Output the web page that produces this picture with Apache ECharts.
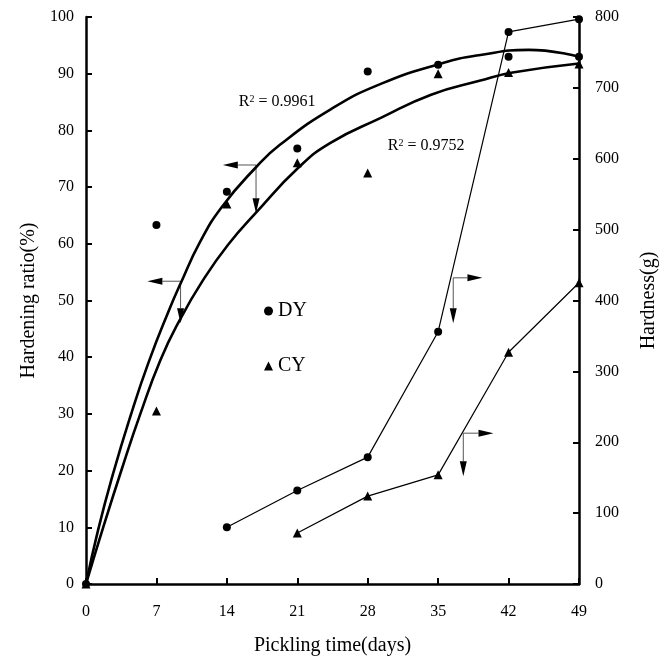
<!DOCTYPE html>
<html>
<head>
<meta charset="utf-8">
<script src="https://cdn.jsdelivr.net/npm/echarts@6/dist/echarts.min.js"></script>
<style>
html, body { margin: 0; padding: 0; background: #fff; }
#chart { width: 671px; height: 663px; }
</style>
</head>
<body>
<div id="chart"></div>
<script>
// measured points
var days = [0, 7, 14, 21, 28, 35, 42, 49];
var dyRatio = [0, 63.3, 69.2, 76.8, 90.4, 91.6, 93, 93];
var cyRatio = [0, 30.5, 67, 74.3, 72.5, 90, 90.2, 91.7];

var dyHardDays = [14, 21, 28, 35, 42, 49];
var dyHardness = [80, 132, 179, 356, 779, 797];
var cyHardDays = [21, 28, 35, 42, 49];
var cyHardness = [72, 124, 154, 327, 425];

// fitted curves
var dyFitDays = [0, 1.2, 2.7, 4.4, 6.2, 8.3, 9.4, 11.3, 13.5, 16.9, 19.3, 24.4, 29.3, 35.3, 39.2, 44, 49];
var dyFit = [0, 9.5, 19.5, 29.5, 39, 48.5, 53, 60.2, 66.5, 73.5, 77.5, 83.8, 88.2, 91.8, 93.3, 94.2, 93];
var cyFitDays = [0, 1.8, 3.6, 5.4, 7.4, 9.3, 11.6, 14.1, 16.9, 21.1, 24.3, 29.3, 34.3, 39.2, 42.4, 49];
var cyFit = [0, 10.5, 20.5, 30, 39.5, 46.5, 53.5, 59.8, 65.5, 73.4, 77.8, 82.2, 86.3, 88.8, 90.2, 91.8];

var fitLabels = ['0.9961', '0.9752'];
var fitLabelAt = [[19, 85], [33.8, 77.2]];

// arrows: corner, horizontal tip, down tip (left-axis units)
var arrowCorner = [[9.4, 53.4], [16.9, 73.9], [36.5, 54], [37.5, 26.6]];
var arrowSide = [6.1, 13.6, 39.4, 40.5];
var arrowDown = [46, 65.4, 46, 19];

var serif = 'Liberation Serif';

function pairs(xs, ys) {
    return xs.map(function (x, i) { return [x, ys[i]]; });
}

var myChart = echarts.init(document.getElementById('chart'));

var axisBase = {
    axisLine: { show: true, lineStyle: { color: '#000', width: 2.5 } },
    axisTick: { show: true, inside: true, length: 6, lineStyle: { color: '#000', width: 2 } },
    splitLine: { show: false },
    nameLocation: 'middle',
    nameTextStyle: { color: '#000', fontFamily: serif, fontSize: 20 }
};

var option = {
    backgroundColor: '#fff',
    animation: false,
    grid: { left: 86, right: 92, top: 17, bottom: 79, containLabel: false },
    legend: {
        left: 259,
        top: 296,
        orient: 'vertical',
        itemGap: 35,
        itemWidth: 9,
        itemHeight: 9,
        textStyle: { color: '#000', fontFamily: serif, fontSize: 20 },
        data: [{ name: 'DY', icon: 'circle' }, { name: 'CY', icon: 'triangle' }]
    },
    xAxis: Object.assign({}, axisBase, {
        type: 'value',
        min: 0,
        max: 49,
        interval: 7,
        name: 'Pickling time(days)',
        nameGap: 52,
        axisLabel: { color: '#000', fontFamily: serif, fontSize: 16, margin: 20 }
    }),
    yAxis: [
        Object.assign({}, axisBase, {
            type: 'value',
            min: 0,
            max: 100,
            interval: 10,
            position: 'left',
            name: 'Hardening ratio(%)',
            nameRotate: 90,
            nameGap: 46,
            axisLabel: { color: '#000', fontFamily: serif, fontSize: 16, margin: 12 }
        }),
        Object.assign({}, axisBase, {
            type: 'value',
            min: 0,
            max: 800,
            interval: 100,
            position: 'right',
            name: 'Hardness(g)',
            nameRotate: 90,
            nameGap: 60,
            axisLabel: { color: '#000', fontFamily: serif, fontSize: 16, margin: 16 }
        })
    ],
    series: [
        {
            name: 'DY fit', type: 'line', smooth: 0.5, showSymbol: false, yAxisIndex: 0,
            lineStyle: { color: '#000', width: 2.6 },
            data: pairs(dyFitDays, dyFit)
        },
        {
            name: 'CY fit', type: 'line', smooth: 0.5, showSymbol: false, yAxisIndex: 0,
            lineStyle: { color: '#000', width: 2.6 },
            data: pairs(cyFitDays, cyFit)
        },
        {
            name: 'DY', type: 'scatter', symbol: 'circle', symbolSize: 8, yAxisIndex: 0,
            itemStyle: { color: '#000', opacity: 1 }, clip: false,
            data: pairs(days, dyRatio)
        },
        {
            name: 'CY', type: 'scatter', symbol: 'triangle', symbolSize: 9, yAxisIndex: 0,
            itemStyle: { color: '#000', opacity: 1 }, clip: false,
            data: pairs(days, cyRatio)
        },
        {
            name: 'DY', type: 'line', symbol: 'circle', symbolSize: 8, yAxisIndex: 1,
            itemStyle: { color: '#000' }, lineStyle: { color: '#000', width: 1.2 }, clip: false,
            data: pairs(dyHardDays, dyHardness)
        },
        {
            name: 'CY', type: 'line', symbol: 'triangle', symbolSize: 9, yAxisIndex: 1,
            itemStyle: { color: '#000' }, lineStyle: { color: '#000', width: 1.2 }, clip: false,
            data: pairs(cyHardDays, cyHardness)
        }
    ]
};
myChart.setOption(option);

// annotations placed in data space
function toPx(p) {
    return myChart.convertToPixel({ xAxisIndex: 0, yAxisIndex: 0 }, p);
}

var graphics = [];
var headLen = 15, headW = 3.5;
for (var i = 0; i < arrowCorner.length; i++) {
    var c = toPx(arrowCorner[i]);
    var s = toPx([arrowSide[i], arrowCorner[i][1]]);
    var d = toPx([arrowCorner[i][0], arrowDown[i]]);
    var dir = s[0] < c[0] ? 1 : -1;
    graphics.push({
        type: 'polyline',
        shape: { points: [[s[0] + dir * headLen, s[1]], c, [d[0], d[1] - headLen]] },
        style: { stroke: '#555', lineWidth: 1, fill: null }
    });
    graphics.push({
        type: 'polygon',
        shape: { points: [s, [s[0] + dir * headLen, s[1] - headW], [s[0] + dir * headLen, s[1] + headW]] },
        style: { fill: '#000' }
    });
    graphics.push({
        type: 'polygon',
        shape: { points: [d, [d[0] - headW, d[1] - headLen], [d[0] + headW, d[1] - headLen]] },
        style: { fill: '#000' }
    });
}
for (var k = 0; k < fitLabels.length; k++) {
    var p = toPx(fitLabelAt[k]);
    graphics.push({
        type: 'text',
        x: p[0],
        y: p[1],
        style: {
            text: 'R{s|2} = ' + fitLabels[k],
            fill: '#000',
            font: '16px "Liberation Serif"',
            align: 'center',
            verticalAlign: 'middle',
            rich: {
                s: { fontSize: 10, fontFamily: serif, verticalAlign: 'top', fill: '#000' }
            }
        }
    });
}
myChart.setOption({ graphic: graphics });

window.addEventListener('resize', function () {
    myChart.resize();
});
</script>
</body>
</html>
